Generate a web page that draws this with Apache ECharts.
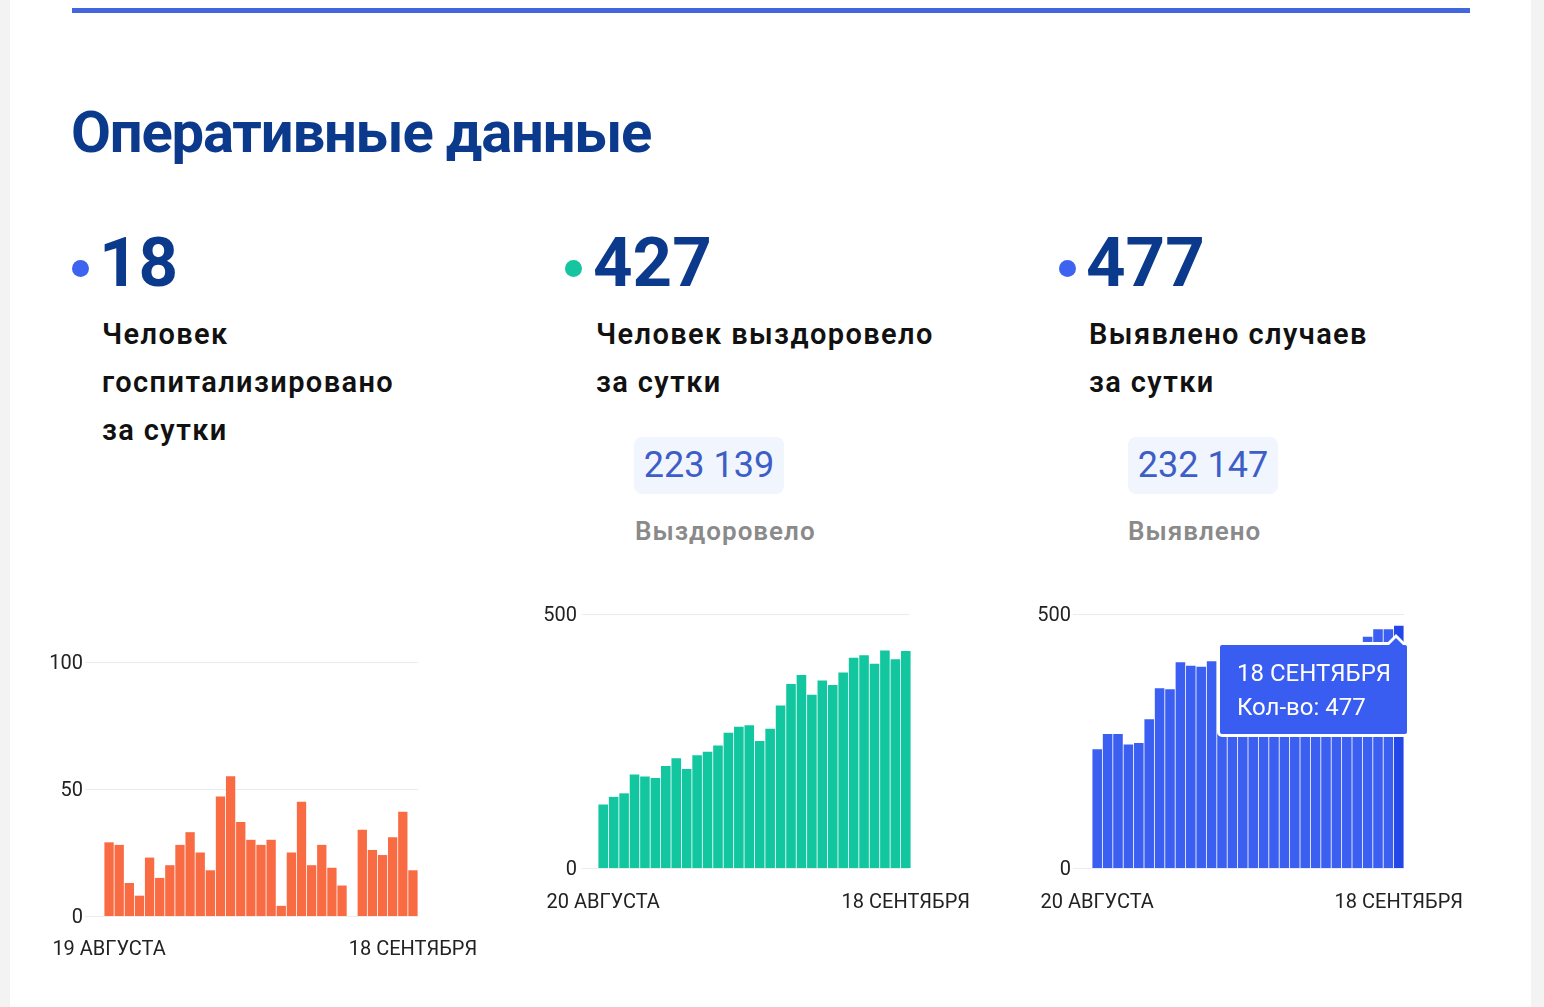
<!DOCTYPE html>
<html><head><meta charset="utf-8">
<script src="https://cdn.jsdelivr.net/npm/echarts@6/dist/echarts.min.js"></script>
<style>
html,body{margin:0;padding:0;width:1544px;height:1007px;overflow:hidden;background:#fff;font-family:Roboto,"Noto Sans",sans-serif;}
.strip{position:absolute;top:0;height:1007px;background:#f3f3f3;}
.topline{position:absolute;left:72px;top:8px;width:1398px;height:5px;background:#4466dd;}
.title{position:absolute;left:71px;top:102px;font-size:58px;line-height:60px;font-weight:700;color:#0b3a8c;white-space:nowrap;letter-spacing:-1.2px;}
.dot{position:absolute;width:17px;height:17px;border-radius:50%;}
.big{position:absolute;top:228px;font-size:69px;line-height:70px;font-weight:700;color:#0b3a8c;}
.desc{position:absolute;top:310px;font-size:29px;line-height:48px;font-weight:600;color:#111;white-space:nowrap;letter-spacing:1.4px;}
.box{position:absolute;top:437px;width:150px;height:57px;border-radius:8px;background:#f1f5fd;color:#3d5ec6;font-size:36px;line-height:57px;text-align:center;}
.sub{position:absolute;top:514px;font-size:26px;line-height:34px;font-weight:600;color:#8a8a8a;letter-spacing:1px;}
#chart{position:absolute;left:0;top:0;width:1544px;height:1007px;}
</style></head><body>
<div class="strip" style="left:0;width:10px"></div>
<div class="strip" style="left:1531px;width:13px"></div>
<div class="topline"></div>
<div class="title">Оперативные данные</div>

<div class="dot" style="left:72px;top:260px;background:#3d63f0"></div>
<div class="big" style="left:99px">18</div>
<div class="desc" style="left:102px">Человек<br>госпитализировано<br>за сутки</div>

<div class="dot" style="left:565px;top:260px;background:#14c5a0"></div>
<div class="big" style="left:593px">427</div>
<div class="desc" style="left:596px">Человек выздоровело<br>за сутки</div>
<div class="box" style="left:634px">223 139</div>
<div class="sub" style="left:635px">Выздоровело</div>

<div class="dot" style="left:1059px;top:260px;background:#3d63f0"></div>
<div class="big" style="left:1086px">477</div>
<div class="desc" style="left:1089px">Выявлено случаев<br>за сутки</div>
<div class="box" style="left:1128px">232 147</div>
<div class="sub" style="left:1128px">Выявлено</div>

<div id="chart"></div>
<script>
const hospDates = ['19 АВГУСТА','20 АВГУСТА','21 АВГУСТА','22 АВГУСТА','23 АВГУСТА','24 АВГУСТА','25 АВГУСТА','26 АВГУСТА','27 АВГУСТА','28 АВГУСТА','29 АВГУСТА','30 АВГУСТА','31 АВГУСТА',
  '1 СЕНТЯБРЯ','2 СЕНТЯБРЯ','3 СЕНТЯБРЯ','4 СЕНТЯБРЯ','5 СЕНТЯБРЯ','6 СЕНТЯБРЯ','7 СЕНТЯБРЯ','8 СЕНТЯБРЯ','9 СЕНТЯБРЯ','10 СЕНТЯБРЯ','11 СЕНТЯБРЯ','12 СЕНТЯБРЯ','13 СЕНТЯБРЯ','14 СЕНТЯБРЯ','15 СЕНТЯБРЯ','16 СЕНТЯБРЯ','17 СЕНТЯБРЯ','18 СЕНТЯБРЯ'];
const hospValues = [29,28,13,8,23,15,20,28,33,25,18,47,55,37,30,28,30,4,25,45,20,28,19,12,0,34,26,24,31,41,18];

const dailyDates = ['20 АВГУСТА','21 АВГУСТА','22 АВГУСТА','23 АВГУСТА','24 АВГУСТА','25 АВГУСТА','26 АВГУСТА','27 АВГУСТА','28 АВГУСТА','29 АВГУСТА','30 АВГУСТА','31 АВГУСТА',
  '1 СЕНТЯБРЯ','2 СЕНТЯБРЯ','3 СЕНТЯБРЯ','4 СЕНТЯБРЯ','5 СЕНТЯБРЯ','6 СЕНТЯБРЯ','7 СЕНТЯБРЯ','8 СЕНТЯБРЯ','9 СЕНТЯБРЯ','10 СЕНТЯБРЯ','11 СЕНТЯБРЯ','12 СЕНТЯБРЯ','13 СЕНТЯБРЯ','14 СЕНТЯБРЯ','15 СЕНТЯБРЯ','16 СЕНТЯБРЯ','17 СЕНТЯБРЯ','18 СЕНТЯБРЯ'];
const recoveredValues = [125,140,147,184,180,177,201,216,195,222,229,241,266,278,281,250,274,320,362,380,341,369,360,385,414,419,402,428,411,427];
const casesValues = [234,264,264,243,246,293,354,352,405,398,396,407,412,418,409,424,430,417,427,434,421,431,439,428,436,442,455,470,470,477];

const hospTicks = {min:0, max:100, interval:50};
const dailyTicks = {min:0, max:500, interval:500};

const chart = echarts.init(document.getElementById('chart'), null, {renderer:'canvas'});
const FONT = 'Roboto';
function lineAxisY(gi, t, margin){
  return {gridIndex:gi, type:'value', min:t.min, max:t.max, interval:t.interval,
    axisLine:{show:false}, axisTick:{show:false},
    axisLabel:{margin:margin, formatter:'{v|{value}}',
      rich:{v:{color:'#222', fontSize:20, fontFamily:FONT, padding:[4,0,0,0]}}},
    splitLine:{lineStyle:{color:'#ececec', width:1}}};
}
function barAxisY(gi, t){
  return {gridIndex:gi, type:'value', min:t.min, max:t.max, interval:t.interval, show:false, splitLine:{show:false}};
}
function hiddenX(gi){ return {gridIndex:gi, type:'value', show:false, min:0, max:1, splitLine:{show:false}}; }
function catX(gi, cats, margin){
  const n = cats.length;
  return {gridIndex:gi, type:'category', data:cats, boundaryGap:true,
    axisLine:{show:false}, axisTick:{show:false}, splitLine:{show:false},
    axisLabel:{color:'#222', fontSize:20, fontFamily:FONT, margin:margin,
      interval:function(i){ return i===0 || i===n-1; }}};
}
const option = {
  animation:false,
  grid:[
    {left:85, top:662, width:333, height:254},
    {left:104, top:662, width:314, height:254},
    {left:582, top:614, width:328, height:254},
    {left:598, top:614, width:313, height:254},
    {left:1073, top:614, width:331, height:254},
    {left:1092, top:614, width:312, height:254}
  ],
  xAxis:[hiddenX(0), catX(1, hospDates, 24), hiddenX(2), catX(3, dailyDates, 25), hiddenX(4), catX(5, dailyDates, 25)],
  yAxis:[lineAxisY(0, hospTicks, 2), barAxisY(1, hospTicks), lineAxisY(2, dailyTicks, 5), barAxisY(3, dailyTicks), lineAxisY(4, dailyTicks, 2), barAxisY(5, dailyTicks)],
  tooltip:{
    trigger:'item', triggerOn:'none', alwaysShowContent:true, transitionDuration:0,
    backgroundColor:'#3a5df1', borderColor:'#ffffff', borderWidth:3, padding:[11,17,10,17],
    extraCssText:'box-shadow:none;border-radius:5px;',
    textStyle:{color:'#fff', fontSize:24, fontFamily:FONT},
    position:[1217, 642],
    formatter:function(p){
      return '<div style="width:153px;line-height:34px;font-size:24px;color:#fff;font-family:Roboto">'+p.name+'<br>Кол-во: '+p.value+'</div>'+
        '<div style="position:absolute;right:0px;top:-11px;width:0;height:0;border-left:11px solid transparent;border-right:11px solid transparent;border-bottom:11px solid #fff;"></div>'+
        '<div style="position:absolute;right:3px;top:-7px;width:0;height:0;border-left:8px solid transparent;border-right:8px solid transparent;border-bottom:8px solid #3a5df1;"></div>';
    }
  },
  series:[
    {type:'bar', xAxisIndex:1, yAxisIndex:1, data:hospValues, barCategoryGap:'8%', itemStyle:{color:'#f96b43'}, emphasis:{disabled:true}},
    {type:'bar', xAxisIndex:3, yAxisIndex:3, data:recoveredValues, barCategoryGap:'8%', itemStyle:{color:'#12c7a0'}, emphasis:{disabled:true}},
    {type:'bar', xAxisIndex:5, yAxisIndex:5, data:casesValues, barCategoryGap:'8%', itemStyle:{color:'#3b5ff1'},
      emphasis:{itemStyle:{color:'#2347e6'}}}
  ]
};
chart.setOption(option);
chart.dispatchAction({type:'highlight', seriesIndex:2, dataIndex:casesValues.length-1});
chart.dispatchAction({type:'showTip', seriesIndex:2, dataIndex:casesValues.length-1});
</script>
</body></html>
